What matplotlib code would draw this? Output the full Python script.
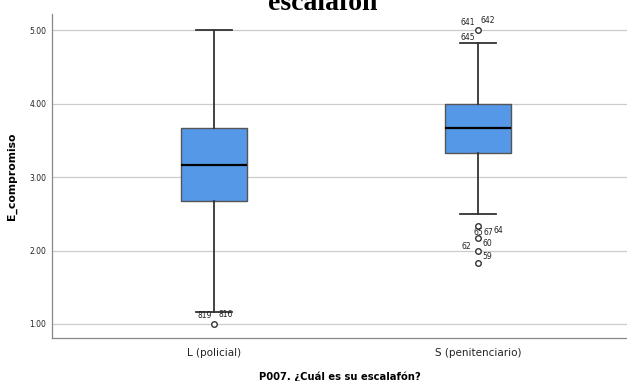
import numpy as np
import matplotlib
matplotlib.use("Agg")
import matplotlib.pyplot as plt

# datos
grupos = ["L (policial)", "S (penitenciario)"]
q1 = [2.67, 3.33]
mediana = [3.17, 3.67]
q3 = [3.67, 4.00]
bigote_inf = [1.17, 2.50]
bigote_sup = [5.00, 4.83]
atipicos = [[1.00], [5.00, 2.33, 2.17, 2.00, 1.83]]

# etiquetas de casos atipicos: (grupo, valor, texto, dx, dy)
etiquetas = [
    (0, 1.00, "819", -12, 4), (0, 1.00, "816", 3, 5),
    (1, 5.00, "641", -13, 4), (1, 5.00, "642", 2, 5),
    (1, 4.83, "645", -13, 2),
    (1, 2.33, "65", -3, -6), (1, 2.33, "67", 4, -6), (1, 2.33, "64", 11, -5),
    (1, 2.17, "60", 3, -6),
    (1, 2.00, "62", -12, 1), (1, 2.00, "59", 3, -6),
]

fig = plt.figure(figsize=(6.27, 3.81), dpi=100)
ax = fig.add_axes([0.083, 0.113, 0.917, 0.85])

stats = []
for i in range(len(grupos)):
    stats.append(dict(q1=q1[i], med=mediana[i], q3=q3[i],
                      whislo=bigote_inf[i], whishi=bigote_sup[i],
                      fliers=atipicos[i], label=grupos[i]))

ax.bxp(stats, positions=[1, 2], widths=0.25, patch_artist=True,
       boxprops=dict(facecolor="#5598E7", edgecolor="#555555", linewidth=1.0),
       medianprops=dict(color="black", linewidth=1.6),
       whiskerprops=dict(color="#333333", linewidth=1.3),
       capprops=dict(color="#333333", linewidth=1.3),
       capwidths=0.135,
       flierprops=dict(marker="o", markersize=4, markerfacecolor="white",
                       markeredgecolor="#333333", markeredgewidth=1.0),
       zorder=3)

for g, v, t, dx, dy in etiquetas:
    ax.annotate(t, (g + 1, v), xytext=(dx, dy), textcoords="offset points",
                fontsize=5.5, color="#222222", zorder=4)

ax.set_xlim(0.386, 2.564)
ax.set_ylim(0.81, 5.22)
ax.set_yticks([1, 2, 3, 4, 5])
ax.set_yticklabels(["1.00", "2.00", "3.00", "4.00", "5.00"], fontsize=5.5)
ax.tick_params(axis="y", length=0, pad=4, colors="#222222")
ax.tick_params(axis="x", length=0, labelsize=7.5, pad=7, colors="#222222")
ax.grid(axis="y", color="#cccccc", linewidth=0.9, zorder=0)
ax.set_axisbelow(True)
for s in ["top", "right"]:
    ax.spines[s].set_visible(False)
for s in ["left", "bottom"]:
    ax.spines[s].set_color("#888888")
    ax.spines[s].set_linewidth(0.9)

ax.set_ylabel("E_compromiso", fontsize=7.8, fontweight="bold", labelpad=9)
ax.set_xlabel("P007. ¿Cuál es su escalafón?", fontsize=7.2, fontweight="bold", labelpad=10)

fig.text(0.514, 1 - 10 / 381, "escalafón", ha="center", va="baseline",
         fontsize=20, fontweight="bold", family="Liberation Serif")

fig.savefig("out.png", dpi=100)
